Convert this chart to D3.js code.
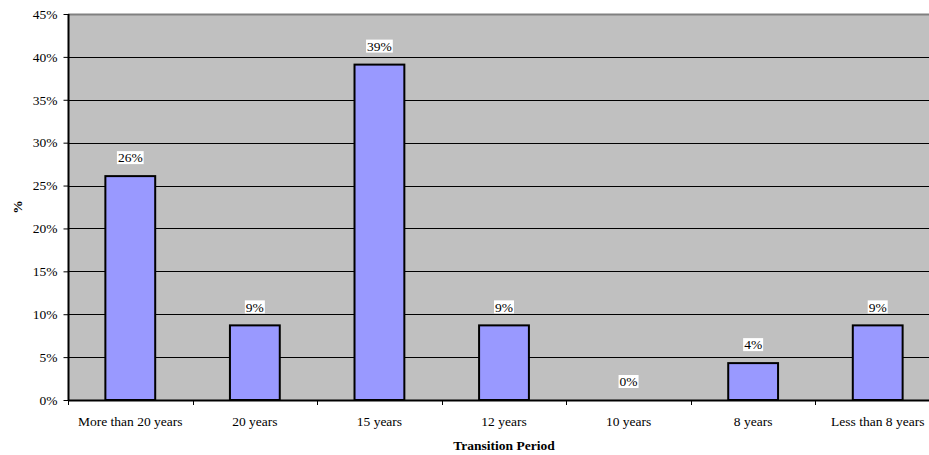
<!DOCTYPE html>
<html>
<head>
<meta charset="utf-8">
<script src="https://cdn.jsdelivr.net/npm/d3@7"></script>
<style>
  body { margin: 0; background: #fff; }
  svg text { font-family: "Liberation Serif", "Times New Roman", Times, serif !important; fill: #000; }
</style>
</head>
<body>
<svg id="chart" width="929" height="455"></svg>
<script>
'use strict';

var categories = ['More than 20 years', '20 years', '15 years', '12 years', '10 years', '8 years', 'Less than 8 years'];
var values = [26.1, 8.7, 39.1, 8.7, 0, 4.3, 8.7];
var valueLabels = ['26%', '9%', '39%', '9%', '0%', '4%', '9%'];
var yTicks = [0, 5, 10, 15, 20, 25, 30, 35, 40, 45];

var svg = d3.select('#chart');
var plotLeft = 68, plotRight = 940, plotTop = 14, plotBottom = 400;
var fs = 13.5;

var x = d3.scaleBand().domain(categories).range([plotLeft, plotRight]).paddingInner(0).paddingOuter(0);
var y = d3.scaleLinear().domain([0, 45]).range([plotBottom, plotTop]);
var barW = x.bandwidth() * 0.4;

// plot background
svg.append('rect')
  .attr('x', plotLeft).attr('y', plotTop)
  .attr('width', plotRight - plotLeft).attr('height', plotBottom - plotTop)
  .attr('fill', '#c0c0c0');

// gridlines
svg.selectAll('line.grid').data(yTicks.slice(1))
  .enter().append('line')
  .attr('class', 'grid')
  .attr('x1', plotLeft).attr('x2', plotRight)
  .attr('y1', function (d) { return Math.round(y(d)) + 0.5; })
  .attr('y2', function (d) { return Math.round(y(d)) + 0.5; })
  .attr('stroke', function (d) { return d === 45 ? '#808080' : '#000'; })
  .attr('stroke-width', function (d) { return d === 45 ? 2 : 1; });

// bars
svg.selectAll('rect.bar').data(values)
  .enter().append('rect')
  .attr('class', 'bar')
  .attr('x', function (d, i) { return x(categories[i]) + (x.bandwidth() - barW) / 2; })
  .attr('y', function (d) { return y(d); })
  .attr('width', barW)
  .attr('height', function (d) { return plotBottom - y(d); })
  .attr('fill', '#9999ff')
  .attr('stroke', '#000')
  .attr('stroke-width', function (d) { return d > 0 ? 2 : 0; });

// y axis
var yAxis = svg.append('g')
  .attr('transform', 'translate(' + (plotLeft + 0.5) + ',0)')
  .call(d3.axisLeft(y).tickValues(yTicks).tickSize(5).tickPadding(6)
    .tickFormat(function (d) { return d + '%'; }));
yAxis.select('.domain').attr('stroke', '#000').attr('stroke-width', 2).attr('d', 'M0,' + plotTop + 'V' + plotBottom);
yAxis.selectAll('.tick text').attr('font-size', fs);

// x axis
var xAxis = svg.append('g')
  .attr('transform', 'translate(0,' + (plotBottom + 0.5) + ')')
  .call(d3.axisBottom(x).tickSize(0).tickPadding(14));
xAxis.select('.domain').attr('stroke', '#000').attr('stroke-width', 2).attr('d', 'M' + plotLeft + ',0H' + plotRight);
xAxis.selectAll('.tick text').attr('font-size', fs).attr('dy', null).attr('y', 25);

// category boundary ticks
svg.selectAll('line.xtick').data(categories.concat(['end']))
  .enter().append('line')
  .attr('class', 'xtick')
  .attr('x1', function (d, i) { return Math.round(plotLeft + i * x.step()) + 0.5; })
  .attr('x2', function (d, i) { return Math.round(plotLeft + i * x.step()) + 0.5; })
  .attr('y1', plotBottom).attr('y2', plotBottom + 5)
  .attr('stroke', '#000');

// value labels
var labels = svg.selectAll('g.vlabel').data(values)
  .enter().append('g')
  .attr('class', 'vlabel')
  .attr('transform', function (d, i) {
    return 'translate(' + (x(categories[i]) + x.bandwidth() / 2) + ',' + (y(d) - 18.5) + ')';
  });
labels.append('rect')
  .attr('x', -10).attr('y', -6.5).attr('width', 20).attr('height', 13)
  .attr('fill', '#fff');
labels.append('text')
  .attr('text-anchor', 'middle')
  .attr('dy', '0.35em')
  .attr('font-size', fs)
  .text(function (d, i) { return valueLabels[i]; });
labels.each(function () {
  var g = d3.select(this);
  var w = g.select('text').node().getComputedTextLength() + 2;
  g.select('rect').attr('x', -w / 2).attr('width', w);
});

// axis titles
svg.append('text')
  .attr('x', (plotLeft + plotRight) / 2).attr('y', 449.5)
  .attr('text-anchor', 'middle')
  .attr('font-size', fs).attr('font-weight', 'bold')
  .text('Transition Period');

svg.append('text')
  .attr('transform', 'translate(22,' + ((plotTop + plotBottom) / 2) + ') rotate(-90)')
  .attr('text-anchor', 'middle')
  .attr('font-size', fs).attr('font-weight', 'bold')
  .text('%');
</script>
</body>
</html>
